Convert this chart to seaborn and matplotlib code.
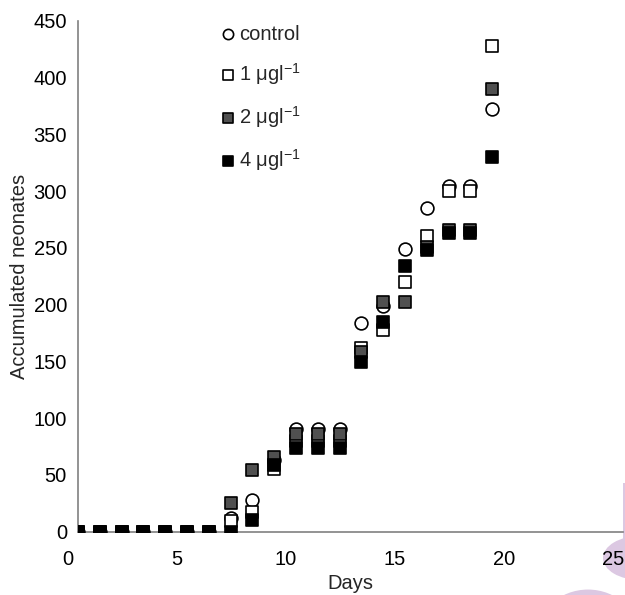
import pandas as pd
import seaborn as sns
import matplotlib.pyplot as plt
import matplotlib.transforms as mtransforms
from matplotlib.patches import Circle, Ellipse, Rectangle

days = list(range(20))
control = [0, 0, 0, 0, 0, 0, 0, 12, 28, 63, 90, 90, 90, 184, 199, 249, 285, 304, 304, 372]
one_ugl = [0, 0, 0, 0, 0, 0, 0, 9, 17, 55, 80, 80, 80, 162, 178, 220, 260, 300, 300, 428]
two_ugl = [0, 0, 0, 0, 0, 0, 0, 25, 54, 66, 86, 86, 86, 158, 202, 202, 251, 266, 266, 390]
four_ugl = [0, 0, 0, 0, 0, 0, 0, 0, 10, 59, 74, 74, 74, 149, 185, 234, 248, 263, 263, 330]

labels = ['control', '1 μgl$^{-1}$', '2 μgl$^{-1}$', '4 μgl$^{-1}$']
series = [control, one_ugl, two_ugl, four_ugl]
markers = ['o', 's', 's', 's']
faces = ['white', 'white', '#505050', 'black']

sns.set_theme(style='white')
plt.rcParams['font.family'] = ['Liberation Sans', 'DejaVu Sans']
plt.rcParams['mathtext.default'] = 'regular'

fig = plt.figure(figsize=(6.25, 5.95), dpi=100)
ax = fig.add_axes([0.1248, 0.1064, 0.8722, 0.8588])

for lab, vals, m, fc in zip(labels, series, markers, faces):
    df = pd.DataFrame({'Days': days, 'Neonates': vals})
    sns.scatterplot(data=df, x='Days', y='Neonates', ax=ax, marker=m, s=85,
                    color=fc, edgecolor='black', linewidth=1.2, label=lab, zorder=3)

ax.set_xlim(0, 25)
ax.set_ylim(0, 450)
ax.set_xticks([0, 5, 10, 15, 20, 25])
ax.set_yticks(range(0, 451, 50))
ax.set_xlabel('Days', fontsize=14.5, labelpad=4)
ax.set_ylabel('Accumulated neonates', fontsize=14.5, labelpad=3)

for side in ['top', 'right']:
    ax.spines[side].set_visible(False)
for side in ['left', 'bottom']:
    ax.spines[side].set_color('#808080')
    ax.spines[side].set_linewidth(1.2)
ax.tick_params(axis='both', direction='out', colors='#808080', labelcolor='black',
               labelsize=14.5, width=1.2)
ax.tick_params(axis='y', length=8, pad=0)
ax.tick_params(axis='x', length=6, pad=7)

# x tick labels sit a little left of their ticks in the original
offset = mtransforms.ScaledTranslation(-0.1, 0, fig.dpi_scale_trans)
for t in ax.get_xticklabels():
    t.set_transform(t.get_transform() + offset)

leg = ax.legend(loc='upper left', bbox_to_anchor=(0.242, 1.008), frameon=False,
                fontsize=14.5, markerscale=0.8, handletextpad=0.05, labelspacing=0.85,
                handlelength=1.0, borderaxespad=0)

# faint lavender blobs at the lower right corner
for patch in [Ellipse((640 / 625, 1 - 558 / 595), 74 / 625, 44 / 595),
              Circle((588 / 625, 1 - 640 / 595), 53 / 625),
              Rectangle((622.5 / 625, 1 - 540 / 595), 2.5 / 625, 57 / 595)]:
    patch.set_transform(fig.transFigure)
    patch.set_facecolor('#dcc8e2')
    patch.set_edgecolor('none')
    patch.set_zorder(-1)
    fig.patches.append(patch)

fig.savefig('out.png', dpi=100)
